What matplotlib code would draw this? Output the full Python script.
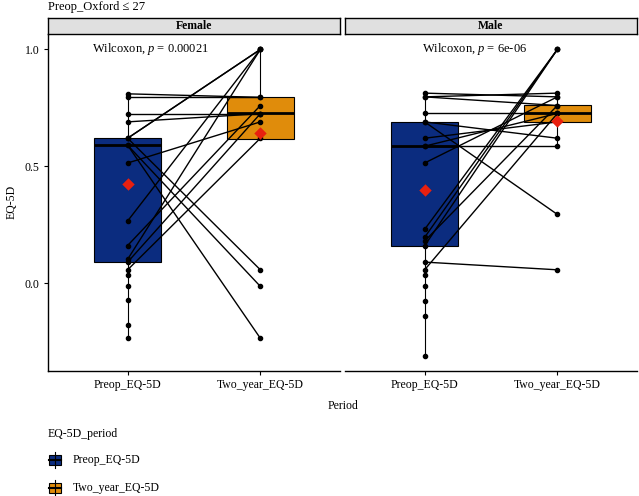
import numpy as np
import matplotlib
matplotlib.use("Agg")
import matplotlib.pyplot as plt
from matplotlib.patches import Rectangle

SERIF = ["Liberation Serif", "DejaVu Serif"]
plt.rcParams["font.family"] = SERIF
plt.rcParams["mathtext.fontset"] = "custom"
plt.rcParams["mathtext.it"] = "Liberation Serif:italic"
plt.rcParams["mathtext.rm"] = "Liberation Serif"

# ---------------- data ----------------
categories = ["Preop_EQ-5D", "Two_year_EQ-5D"]
panels = ["Female", "Male"]
p_labels = ["Wilcoxon, $p$ = 0.00021", "Wilcoxon, $p$ = 6e-06"]

female_preop = [0.81, 0.795, 0.725, 0.69, 0.62, 0.62, 0.62, 0.59, 0.59, 0.514,
                0.266, 0.161, 0.102, 0.09, 0.057, 0.033, -0.013, -0.072, -0.178, -0.236]
female_two_year = [0.795, 0.795, 0.725, 0.725, 1.0, 1.0, 0.057, -0.014, -0.236, 0.69,
                   1.0, 0.76, 1.0, 0.725, 0.62, np.nan, np.nan, np.nan, np.nan, np.nan]

male_preop = [0.813, 0.797, 0.797, 0.726, 0.69, 0.69, 0.62, 0.586, 0.586, 0.514,
              0.23, 0.196, 0.18, 0.16, 0.09, 0.057, 0.033, -0.014, -0.075, -0.141, -0.31]
male_two_year = [0.797, 0.813, 0.76, 0.726, 0.294, 0.62, 0.69, 0.586, 0.726, 0.797,
                 1.0, 1.0, 0.76, 1.0, 0.057, 0.726, np.nan, np.nan, np.nan, np.nan, np.nan]

# box statistics per panel: [Preop, Two_year]
female_q1 = [0.09, 0.617]
female_median = [0.59, 0.726]
female_q3 = [0.62, 0.795]
female_whislo = [-0.236, 0.617]
female_whishi = [0.81, 1.0]
female_mean = [0.424, 0.644]

male_q1 = [0.16, 0.69]
male_median = [0.588, 0.728]
male_q3 = [0.69, 0.763]
male_whislo = [-0.31, 0.586]
male_whishi = [0.813, 0.813]
male_mean = [0.397, 0.693]

# ---------------- style ----------------
box_colors = ["#0B2C7F", "#E08C0B"]
W, H = 639, 496
fig = plt.figure(figsize=(W / 100, H / 100), dpi=100)

def fx(px):
    return px / W

def fy(py):
    return 1 - py / H

panel_x = [(48, 340), (345, 637)]
top_px, bot_px = 34, 371
strip_top = 18

data = {
    "Female": (female_preop, female_two_year,
               female_q1, female_median, female_q3, female_whislo, female_whishi, female_mean),
    "Male": (male_preop, male_two_year,
             male_q1, male_median, male_q3, male_whislo, male_whishi, male_mean),
}
label_x = [0.73, 0.98]

for i, name in enumerate(panels):
    x0, x1 = panel_x[i]
    ax = fig.add_axes([fx(x0), fy(bot_px), fx(x1 - x0), (bot_px - top_px) / H])
    pre, two, q1, med, q3, wlo, whi, mn = data[name]
    pos = [1, 2]
    stats = []
    for k in range(2):
        stats.append(dict(med=med[k], q1=q1[k], q3=q3[k], whislo=wlo[k], whishi=whi[k],
                          mean=mn[k], fliers=[], label=categories[k]))
    bp = ax.bxp(stats, positions=pos, widths=0.5, patch_artist=True, showfliers=False,
                showcaps=False,
                boxprops=dict(edgecolor="black", linewidth=0.8),
                medianprops=dict(color="black", linewidth=2.0),
                whiskerprops=dict(color="black", linewidth=0.8))
    for patch, c in zip(bp["boxes"], box_colors):
        patch.set_facecolor(c)
    for box in bp["boxes"]:
        box.set_zorder(1)
    # paired lines
    pre_a = np.array(pre, dtype=float)
    two_a = np.array(two, dtype=float)
    for a, b in zip(pre_a, two_a):
        if np.isfinite(a) and np.isfinite(b):
            ax.plot([1, 2], [a, b], color="black", linewidth=1.0, zorder=3)
    ax.scatter(np.full(len(pre_a), 1.0), pre_a, s=9, color="black", zorder=4)
    ok = np.isfinite(two_a)
    ax.scatter(np.full(ok.sum(), 2.0), two_a[ok], s=9, color="black", zorder=4)
    ax.scatter(pos, mn, marker="D", s=40, color="#E8200F", zorder=5, linewidths=0)

    ax.set_xlim(0.4, 2.6)
    ax.set_ylim(-0.376, 1.066)
    ax.set_xticks(pos)
    ax.set_xticklabels(categories, fontsize=8.5)
    ax.tick_params(axis="x", length=3, width=0.8, pad=3)
    for s in ["top", "right"]:
        ax.spines[s].set_visible(False)
    ax.spines["bottom"].set_linewidth(1.0)
    if i == 0:
        ax.set_yticks([0.0, 0.5, 1.0])
        ax.set_yticklabels(["0.0", "0.5", "1.0"], fontsize=8.5)
        ax.tick_params(axis="y", length=3, width=0.8, pad=3)
        ax.spines["left"].set_linewidth(1.0)
    else:
        ax.set_yticks([])
        ax.spines["left"].set_visible(False)
    ax.text(label_x[i], 1.0, p_labels[i], fontsize=9, ha="left", va="center")

    # strip
    sax = fig.add_axes([fx(x0), fy(top_px), fx(x1 - x0), (top_px - strip_top) / H])
    sax.set_xticks([]); sax.set_yticks([])
    sax.set_facecolor("#E0E0E0")
    for s in sax.spines.values():
        s.set_linewidth(1.0)
    sax.text(0.5, 0.5, name, transform=sax.transAxes, ha="center", va="center",
             fontsize=8.5, fontweight="bold")

fig.text(fx(48), fy(7), "Preop_Oxford \u2264 27", fontsize=9, ha="left", va="center")
fig.text(fx(12), fy(202), "EQ-5D", fontsize=8.5, rotation=90, ha="center", va="center")
fig.text(fx(343), fy(406), "Period", fontsize=8.5, ha="center", va="center")
fig.text(fx(48), fy(434), "EQ-5D_period", fontsize=8.5, ha="left", va="center")

# legend keys
lax = fig.add_axes([0, 0, 1, 1], zorder=-1)
lax.set_xlim(0, W)
lax.set_ylim(H, 0)
lax.axis("off")
for k, (cat, c) in enumerate(zip(categories, box_colors)):
    yc = 460 + 28 * k
    lax.plot([55, 55], [yc - 8, yc + 8], color="black", linewidth=0.8)
    lax.add_patch(Rectangle((49, yc - 5), 12, 10, facecolor=c, edgecolor="black", linewidth=0.8))
    lax.plot([49, 61], [yc, yc], color="black", linewidth=1.5)
    fig.text(fx(73), fy(yc), cat, fontsize=8.5, ha="left", va="center")

fig.savefig("out.png", dpi=100)
